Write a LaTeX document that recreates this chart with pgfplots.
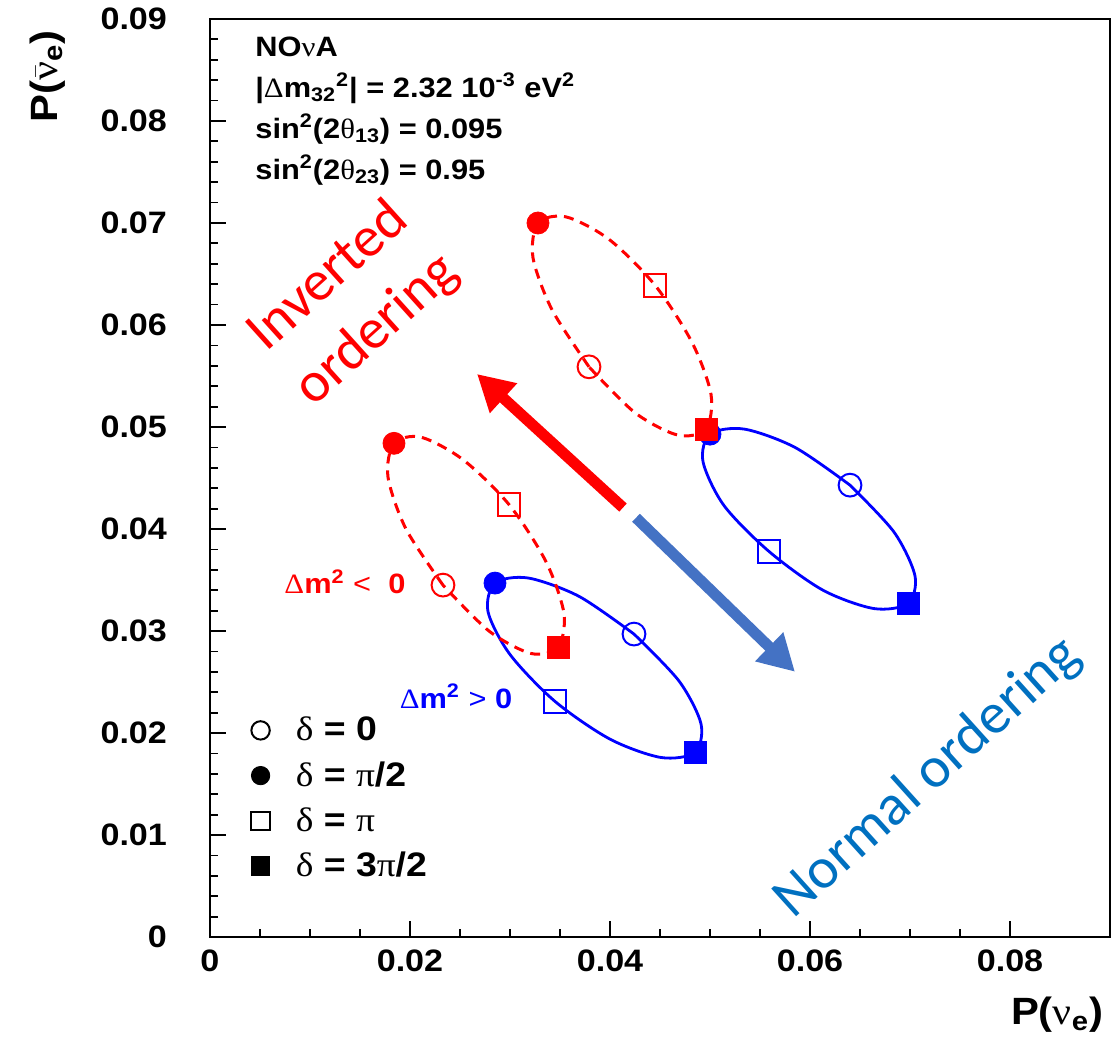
\documentclass[border=0pt]{standalone}
\usepackage{fontspec}
\usepackage{amsmath}
\usepackage{pgfplots}
\pgfplotsset{compat=1.18}
\usetikzlibrary{arrows.meta}
\newfontfamily\rootfont{Liberation Sans}[FakeStretch=1.1]
\newfontfamily\symb{Liberation Serif}[FakeStretch=1.1]
\newfontfamily\calib{Carlito}
\definecolor{arrowblue}{RGB}{68,114,196}
\definecolor{noblue}{RGB}{0,112,192}
\newcommand{\gr}[1]{{\symb\mdseries #1}}

\begin{document}
\begin{tikzpicture}
\begin{axis}[
  scale only axis, width=450pt, height=459pt,
  xmin=0, xmax=0.09, ymin=0, ymax=0.09,
  xtick={0,0.02,0.04,0.06,0.08},
  ytick={0,0.01,0.02,0.03,0.04,0.05,0.06,0.07,0.08,0.09},
  minor x tick num=3, minor y tick num=4,
  tick align=inside, xtick pos=bottom, ytick pos=left,
  major tick length=8pt, minor tick length=4pt,
  axis line style={line width=1.2pt}, tick style={black, line width=0.9pt},
  scaled ticks=false,
  /pgf/number format/fixed, /pgf/number format/precision=2,
  /pgf/number format/assume math mode=true,
  tick label style={font=\rootfont\bfseries\fontsize{15.5}{17}\selectfont},
  yticklabel style={xshift=-18pt}, xticklabel style={yshift=-3pt},
  label style={font=\rootfont\bfseries\fontsize{19}{22}\selectfont},
  xlabel={P(\gr{ν}\textsubscript{e})},
  ylabel={P($\bar{\hbox{\gr{ν}}}$\textsubscript{e})},
  xlabel style={at={(rel axis cs:1,-0.085)}, anchor=east},
  ylabel style={at={(rel axis cs:-0.18,0.995)}, anchor=east},
  clip=false,
  legend style={at={(axis cs:0.0041,0.0220)}, anchor=north west, draw=none, fill=none,
    inner sep=0pt, row sep=5pt, cells={anchor=west},
    /tikz/every odd column/.append style={column sep=11pt},
    font=\rootfont\bfseries\fontsize{17}{19}\selectfont},
]
% page frame
\path (rel axis cs:-0.2333,-0.1166) rectangle (rel axis cs:1.0111,1.0207);

% normal ordering ellipses (blue)
\addplot[blue, line width=1.4pt, smooth, forget plot] coordinates {
  (0.0424,0.0297) (0.0369,0.0334) (0.0318,0.0352) (0.0285,0.0347) (0.0278,0.0319) (0.0300,0.0277)
  (0.0345,0.0231) (0.0400,0.0194) (0.0451,0.0176) (0.0485,0.0181) (0.0491,0.0209) (0.0469,0.0251) (0.0424,0.0297)
};
\addplot[blue, line width=1.4pt, smooth, forget plot] coordinates {
  (0.0640,0.0443) (0.0585,0.0480) (0.0534,0.0498) (0.0500,0.0493) (0.0493,0.0466) (0.0514,0.0423)
  (0.0559,0.0378) (0.0613,0.0340) (0.0664,0.0322) (0.0698,0.0327) (0.0705,0.0354) (0.0684,0.0397) (0.0640,0.0443)
};
% blue markers
\addplot[only marks, blue, mark=o, mark size=5.7pt, mark options={line width=1pt}, forget plot] coordinates {(0.0424,0.0297) (0.0640,0.0443)};
\addplot[only marks, blue, mark=*, mark size=5.5pt, forget plot] coordinates {(0.0285,0.0347) (0.0500,0.0493)};
\addplot[only marks, blue, mark=square, mark size=5.7pt, mark options={line width=1pt}, forget plot] coordinates {(0.0345,0.0231) (0.0559,0.0378)};
\addplot[only marks, blue, mark=square*, mark size=5.5pt, forget plot] coordinates {(0.0485,0.0181) (0.0698,0.0327)};

% inverted ordering ellipses (red, dashed)
\addplot[red, line width=1.5pt, smooth, dash pattern=on 5pt off 3.5pt, forget plot] coordinates {
  (0.0379,0.0559) (0.0342,0.0615) (0.0323,0.0666) (0.0328,0.0700) (0.0356,0.0706) (0.0399,0.0684)
  (0.0445,0.0639) (0.0482,0.0583) (0.0501,0.0532) (0.0496,0.0498) (0.0468,0.0492) (0.0425,0.0514) (0.0379,0.0559)
};
\addplot[red, line width=1.5pt, smooth, dash pattern=on 5pt off 3.5pt, forget plot] coordinates {
  (0.0233,0.0345) (0.0196,0.0400) (0.0178,0.0451) (0.0184,0.0484) (0.0211,0.0490) (0.0253,0.0468)
  (0.0299,0.0424) (0.0336,0.0368) (0.0354,0.0317) (0.0348,0.0284) (0.0321,0.0278) (0.0279,0.0300) (0.0233,0.0345)
};
% red markers
\addplot[only marks, red, mark=o, mark size=5.7pt, mark options={line width=1pt}, forget plot] coordinates {(0.0379,0.0559) (0.0233,0.0345)};
\addplot[only marks, red, mark=*, mark size=5.5pt, forget plot] coordinates {(0.0328,0.0700) (0.0184,0.0484)};
\addplot[only marks, red, mark=square, mark size=5.7pt, mark options={line width=1pt}, forget plot] coordinates {(0.0445,0.0639) (0.0299,0.0424)};
\addplot[only marks, red, mark=square*, mark size=5.5pt, forget plot] coordinates {(0.0496,0.0498) (0.0348,0.0284)};

% legend
\addlegendimage{only marks, black, mark=o, mark size=4.6pt, mark options={line width=1pt}}
\addlegendentry{\gr{δ} = 0}
\addlegendimage{only marks, black, mark=*, mark size=4.6pt}
\addlegendentry{\gr{δ} = \gr{π}/2}
\addlegendimage{only marks, black, mark=square, mark size=4.6pt, mark options={line width=1pt}}
\addlegendentry{\gr{δ} = \gr{π}}
\addlegendimage{only marks, black, mark=square*, mark size=4.6pt}
\addlegendentry{\gr{δ} = 3\gr{π}/2}

% arrows
\draw[red, line width=5.5pt, -{Triangle[length=18pt, width=19pt]}] (axis cs:0.0413,0.0421) -- (axis cs:0.0267,0.0552);
\draw[arrowblue, line width=5.5pt, -{Triangle[length=18pt, width=19pt]}] (axis cs:0.0426,0.0411) -- (axis cs:0.0585,0.0260);

% annotations
\node[anchor=north west, inner sep=0pt, align=left,
  font=\rootfont\bfseries\fontsize{14}{20.5}\selectfont] at (axis cs:0.0045,0.0883)
  {NO\gr{ν}A\\
   |\gr{Δ}m\textsubscript{32}\textsuperscript{2}| = 2.32 10\textsuperscript{-3} eV\textsuperscript{2}\\
   sin\textsuperscript{2}(2\gr{θ}\textsubscript{13}) = 0.095\\
   sin\textsuperscript{2}(2\gr{θ}\textsubscript{23}) = 0.95};
\node[red, font=\rootfont\bfseries\fontsize{14}{16}\selectfont] at (axis cs:0.0135,0.0348)
  {\gr{Δ}m\textsuperscript{2} {\mdseries <} \ 0};
\node[blue, font=\rootfont\bfseries\fontsize{14}{16}\selectfont] at (axis cs:0.0246,0.0236)
  {\gr{Δ}m\textsuperscript{2} {\mdseries >} 0};
\node[red, rotate=42, align=center, font=\calib\fontsize{28.5}{36}\selectfont] at (axis cs:0.0143,0.0621)
  {Inverted\\ordering};
\node[noblue, rotate=42, font=\calib\fontsize{29}{34}\selectfont] at (axis cs:0.0718,0.0156)
  {Normal ordering};
\end{axis}
\end{tikzpicture}
\end{document}
